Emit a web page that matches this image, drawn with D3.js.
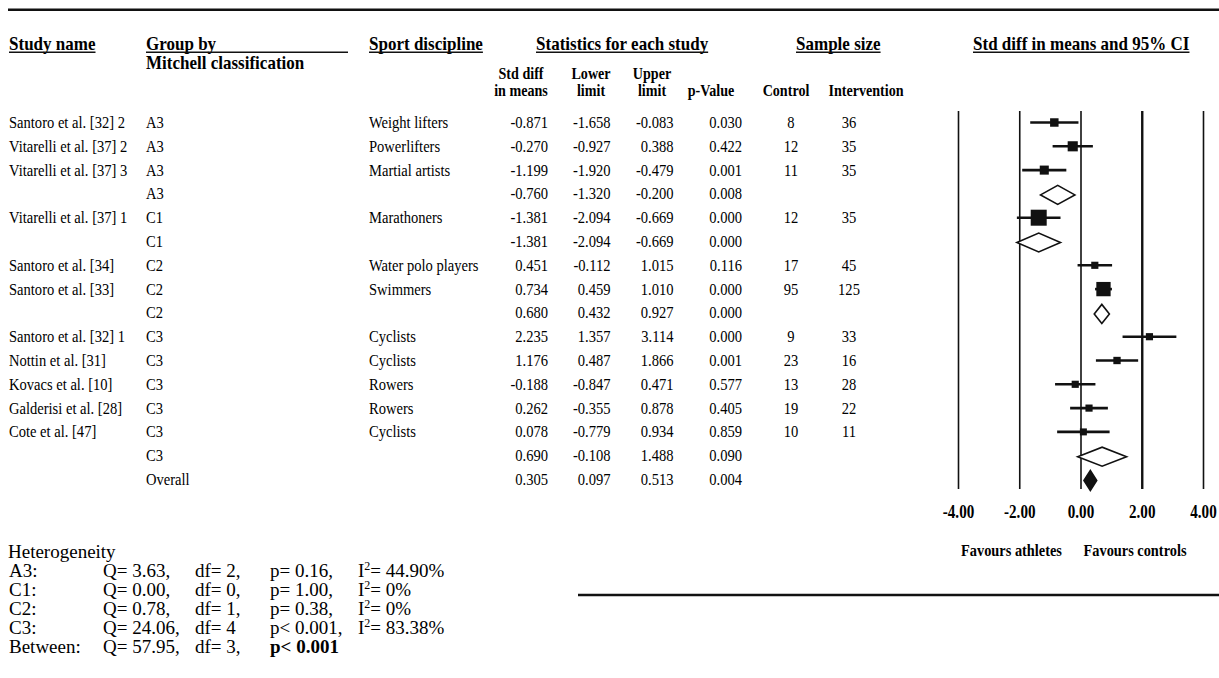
<!DOCTYPE html>
<html>
<head>
<meta charset="utf-8">
<script src="https://cdnjs.cloudflare.com/ajax/libs/d3/7.8.5/d3.min.js"></script>
<style>
  body { margin: 0; background: #fff; }
  svg text { font-family: "Liberation Serif", "Times New Roman", serif; fill: #000; }
</style>
</head>
<body>
<div class="figure"></div>
<script>
(function() {

// table rows, top to bottom
const studies = ['Santoro et al. [32] 2', 'Vitarelli et al. [37] 2', 'Vitarelli et al. [37] 3', '',
  'Vitarelli et al. [37] 1', '', 'Santoro et al. [34]', 'Santoro et al. [33]', '',
  'Santoro et al. [32] 1', 'Nottin et al. [31]', 'Kovacs et al. [10]', 'Galderisi et al. [28]', 'Cote et al. [47]', '', ''];
const groups = ['A3', 'A3', 'A3', 'A3', 'C1', 'C1', 'C2', 'C2', 'C2', 'C3', 'C3', 'C3', 'C3', 'C3', 'C3', 'Overall'];
const sports = ['Weight lifters', 'Powerlifters', 'Martial artists', '', 'Marathoners', '', 'Water polo players', 'Swimmers', '',
  'Cyclists', 'Cyclists', 'Rowers', 'Rowers', 'Cyclists', '', ''];
const rowTypes = ['study', 'study', 'study', 'subgroup', 'study', 'subgroup', 'study', 'study', 'subgroup',
  'study', 'study', 'study', 'study', 'study', 'subgroup', 'overall'];
const stdDiff = [-0.871, -0.270, -1.199, -0.760, -1.381, -1.381, 0.451, 0.734, 0.680, 2.235, 1.176, -0.188, 0.262, 0.078, 0.690, 0.305];
const lowerLimit = [-1.658, -0.927, -1.920, -1.320, -2.094, -2.094, -0.112, 0.459, 0.432, 1.357, 0.487, -0.847, -0.355, -0.779, -0.108, 0.097];
const upperLimit = [-0.083, 0.388, -0.479, -0.200, -0.669, -0.669, 1.015, 1.010, 0.927, 3.114, 1.866, 0.471, 0.878, 0.934, 1.488, 0.513];
const pValues = ['0.030', '0.422', '0.001', '0.008', '0.000', '0.000', '0.116', '0.000', '0.000', '0.000', '0.001', '0.577', '0.405', '0.859', '0.090', '0.004'];
const controlN = [8, 12, 11, null, 12, null, 17, 95, null, 9, 23, 13, 19, 10, null, null];
const interventionN = [36, 35, 35, null, 35, null, 45, 125, null, 33, 16, 28, 22, 11, null, null];
// relative weight within subgroup (%)
const weights = [28, 40, 32, null, 100, null, 20, 80, null, 20, 21, 20, 20, 19, null, null];

const tickValues = [-4, -2, 0, 2, 4];

const hetLabels = ['A3:', 'C1:', 'C2:', 'C3:', 'Between:'];
const hetQ = ['Q= 3.63,', 'Q= 0.00,', 'Q= 0.78,', 'Q= 24.06,', 'Q= 57.95,'];
const hetDf = ['df= 2,', 'df= 0,', 'df= 1,', 'df= 4', 'df= 3,'];
const hetP = ['p= 0.16,', 'p= 1.00,', 'p= 0.38,', 'p< 0.001,', 'p< 0.001'];
const hetI2 = ['44.90%', '0%', '0%', '83.38%', null];


const svg = d3.select('.figure')
  .append('svg')
  .attr('width', 1219)
  .attr('height', 678);

// text helper, the source pdf squeezes its type horizontally
const put = (parent, str, x, y, o = {}) => parent.append('text')
  .attr('transform', `translate(${x},${y}) scale(${o.sx || 1},1)`)
  .attr('text-anchor', o.anchor || 'start')
  .style('font-size', (o.size || 16) + 'px')
  .style('font-weight', o.bold ? 'bold' : 'normal')
  .text(str);

const underline = (t, x, y, sx, toX) => {
  const w = t.node().getComputedTextLength() * sx;
  svg.append('line')
    .attr('x1', x).attr('x2', toX || x + w)
    .attr('y1', y).attr('y2', y)
    .attr('stroke', '#111').attr('stroke-width', 1.5);
};

// rules
svg.append('line').attr('x1', 8).attr('x2', 1219).attr('y1', 9.7).attr('y2', 9.7)
  .attr('stroke', '#111').attr('stroke-width', 2.6);
svg.append('line').attr('x1', 578).attr('x2', 1219).attr('y1', 595).attr('y2', 595)
  .attr('stroke', '#111').attr('stroke-width', 2.6);

// header line 1
const hs = 0.92;
const head1 = [
  {s: 'Study name', x: 9},
  {s: 'Group by', x: 146, to: 348},
  {s: 'Sport discipline', x: 369},
  {s: 'Statistics for each study', x: 536},
  {s: 'Sample size', x: 796},
  {s: 'Std diff in means and 95% CI', x: 973}
];
head1.forEach(h => {
  const t = put(svg, h.s, h.x, 50, {size: 18.5, bold: true, sx: hs});
  underline(t, h.x, 52.3, hs, h.to);
});
put(svg, 'Mitchell classification', 146, 69, {size: 18.5, bold: true, sx: hs});

// header line 2
const ss = 0.83;
const head2 = [
  {s: ['Std diff', 'in means'], x: 521},
  {s: ['Lower', 'limit'], x: 591},
  {s: ['Upper', 'limit'], x: 652},
  {s: ['', 'p-Value'], x: 711},
  {s: ['', 'Control'], x: 786},
  {s: ['', 'Intervention'], x: 866}
];
head2.forEach(h => {
  put(svg, h.s[0], h.x, 79, {size: 17, bold: true, sx: ss, anchor: 'middle'});
  put(svg, h.s[1], h.x, 95.5, {size: 17, bold: true, sx: ss, anchor: 'middle'});
});

// rows
const y = d3.scaleLinear().domain([0, studies.length - 1]).range([122.5, 479.5]);
const x = d3.scaleLinear().domain([-4, 4]).range([958.5, 1203.5]);
const boxSize = d3.scaleSqrt().domain([0, 100]).range([0, 16]);

const fmt = v => v == null ? '' : v.toFixed(3);
const cols = [
  {vals: studies, x: 9, anchor: 'start'},
  {vals: groups, x: 146, anchor: 'start'},
  {vals: sports, x: 369, anchor: 'start'},
  {vals: stdDiff.map(fmt), x: 548, anchor: 'end'},
  {vals: lowerLimit.map(fmt), x: 610.5, anchor: 'end'},
  {vals: upperLimit.map(fmt), x: 673.5, anchor: 'end'},
  {vals: pValues, x: 742, anchor: 'end'},
  {vals: controlN.map(v => v == null ? '' : v), x: 791, anchor: 'middle'},
  {vals: interventionN.map(v => v == null ? '' : v), x: 849, anchor: 'middle'}
];
const table = svg.append('g').attr('class', 'table');
cols.forEach(c => {
  c.vals.forEach((v, i) => {
    if (v === '') return;
    put(table, v, c.x, y(i) + 5.4, {size: 16, sx: 0.91, anchor: c.anchor});
  });
});

// forest plot
const plot = svg.append('g').attr('class', 'forest');
plot.selectAll('line.grid')
  .data(tickValues)
  .enter().append('line')
    .attr('class', 'grid')
    .attr('x1', d => x(d)).attr('x2', d => x(d))
    .attr('y1', 111).attr('y2', 489)
    .attr('stroke', '#111')
    .attr('stroke-width', d => d === 2 ? 2.4 : 1.6);

tickValues.forEach(d => {
  put(plot, d.toFixed(2), x(d), 518, {size: 18, bold: true, sx: 0.84, anchor: 'middle'});
});
put(plot, 'Favours athletes', 1011.5, 555.5, {size: 17.5, bold: true, sx: 0.82, anchor: 'middle'});
put(plot, 'Favours controls', 1135, 555.5, {size: 17.5, bold: true, sx: 0.82, anchor: 'middle'});

const rows = stdDiff.map((d, i) => ({
  est: d, lo: lowerLimit[i], hi: upperLimit[i], type: rowTypes[i], w: weights[i], i
}));

const studyRows = rows.filter(r => r.type === 'study');
plot.selectAll('line.ci')
  .data(studyRows)
  .enter().append('line')
    .attr('class', 'ci')
    .attr('x1', d => x(d.lo)).attr('x2', d => x(d.hi))
    .attr('y1', d => y(d.i)).attr('y2', d => y(d.i))
    .attr('stroke', '#111').attr('stroke-width', 2.6);
plot.selectAll('rect.box')
  .data(studyRows)
  .enter().append('rect')
    .attr('class', 'box')
    .attr('x', d => x(d.est) - boxSize(d.w) / 2)
    .attr('y', d => y(d.i) - boxSize(d.w) / 2)
    .attr('width', d => boxSize(d.w))
    .attr('height', d => boxSize(d.w))
    .attr('fill', '#111');

const diamonds = rows.filter(r => r.type !== 'study');
plot.selectAll('polygon.diamond')
  .data(diamonds)
  .enter().append('polygon')
    .attr('class', 'diamond')
    .attr('points', d => {
      const cy = y(d.i) + 1, h = d.type === 'overall' ? 10 : 9.5;
      return [[x(d.lo), cy], [x(d.est), cy - h], [x(d.hi), cy], [x(d.est), cy + h]].join(' ');
    })
    .attr('fill', d => d.type === 'overall' ? '#111' : '#fff')
    .attr('stroke', '#111')
    .attr('stroke-width', 1.6);

// heterogeneity block
const het = svg.append('g').attr('class', 'het');
put(het, 'Heterogeneity', 8, 558, {size: 19});
hetLabels.forEach((lab, i) => {
  const by = 577 + i * 19;
  put(het, lab, 9, by, {size: 19});
  put(het, hetQ[i], 103, by, {size: 19});
  put(het, hetDf[i], 195, by, {size: 19});
  put(het, hetP[i], 270, by, {size: 19, bold: i === 4});
  if (hetI2[i] != null) {
    const t = put(het, 'I', 358, by, {size: 19});
    t.append('tspan').attr('dy', -7).style('font-size', '12px').text('2');
    t.append('tspan').attr('dy', 7).text('= ' + hetI2[i]);
  }
});

})();
</script>
</body>
</html>
